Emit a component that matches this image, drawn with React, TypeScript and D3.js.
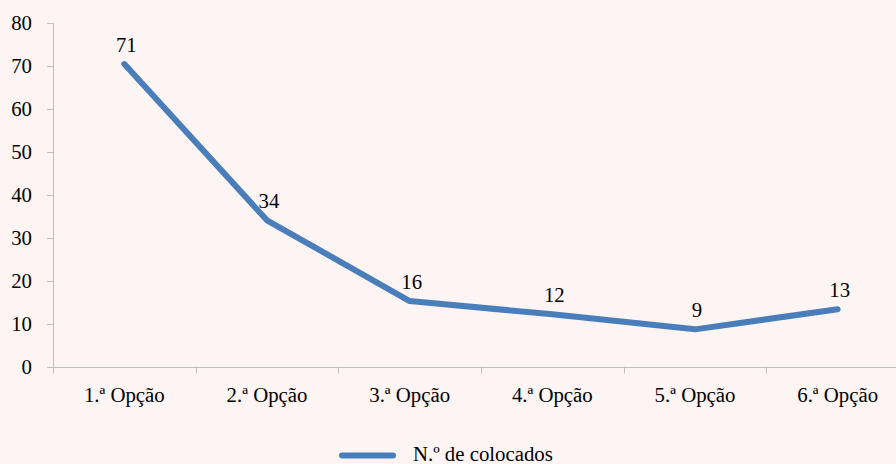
import { useEffect, useRef } from "react";
import * as d3 from "d3";

const categories = ["1.ª Opção", "2.ª Opção", "3.ª Opção", "4.ª Opção", "5.ª Opção", "6.ª Opção"];
const values = [70.5, 34.1, 15.3, 12.2, 8.7, 13.4];
const valueLabels = ["71", "34", "16", "12", "9", "13"];
const yTicks = [0, 10, 20, 30, 40, 50, 60, 70, 80];
const seriesName = "N.º de colocados";

export default function App() {
  const ref = useRef<SVGSVGElement>(null);

  useEffect(() => {
    if (!ref.current) return;
    const width = 896;
    const height = 464;
    const svg = d3.select(ref.current);
    svg.selectAll("*").remove();

    const font = "'Liberation Serif', 'DejaVu Serif', serif";
    const fontSize = 20.8;
    const lineColor = "#4a7ebb";
    const axisColor = "#bfbfbf";

    svg.append("rect").attr("width", width).attr("height", height).attr("fill", "#fdf4f4");

    const x = d3.scaleBand<string>().domain(categories).range([53, 909]);
    const y = d3.scaleLinear().domain([0, 80]).range([366.7, 23.3]);

    const g = svg.append("g");

    const label = (sel: d3.Selection<SVGTextElement, any, any, any>) =>
      sel.attr("font-family", font).attr("font-size", fontSize).attr("fill", "#000");

    // y axis
    g.append("line")
      .attr("x1", 53.5).attr("x2", 53.5)
      .attr("y1", y(80)).attr("y2", y(0))
      .attr("stroke", axisColor);
    g.selectAll("line.ytick")
      .data(yTicks)
      .enter()
      .append("line")
      .attr("class", "ytick")
      .attr("x1", 47).attr("x2", 53.5)
      .attr("y1", (d) => Math.round(y(d)) + 0.5)
      .attr("y2", (d) => Math.round(y(d)) + 0.5)
      .attr("stroke", axisColor);
    g.selectAll("text.ylab")
      .data(yTicks)
      .enter()
      .append("text")
      .attr("class", "ylab")
      .attr("x", 32)
      .attr("y", (d) => y(d) + 7)
      .attr("text-anchor", "end")
      .call(label)
      .text((d) => d);

    // x axis
    g.append("line")
      .attr("x1", 53).attr("x2", width)
      .attr("y1", Math.round(y(0)) + 0.5).attr("y2", Math.round(y(0)) + 0.5)
      .attr("stroke", axisColor);
    const xTickPos = categories.map((c) => x(c) as number);
    g.selectAll("line.xtick")
      .data(xTickPos)
      .enter()
      .append("line")
      .attr("class", "xtick")
      .attr("x1", (d) => Math.round(d) + 0.5)
      .attr("x2", (d) => Math.round(d) + 0.5)
      .attr("y1", y(0))
      .attr("y2", y(0) + 7)
      .attr("stroke", axisColor);
    g.selectAll("text.xlab")
      .data(categories)
      .enter()
      .append("text")
      .attr("class", "xlab")
      .attr("x", (d) => (x(d) as number) + x.bandwidth() / 2)
      .attr("y", 401.5)
      .attr("text-anchor", "middle")
      .call(label)
      .text((d) => d);

    // series
    const pts = categories.map((c, i) => [(x(c) as number) + x.bandwidth() / 2, y(values[i])] as [number, number]);
    g.append("path")
      .attr("d", d3.line()(pts) as string)
      .attr("fill", "none")
      .attr("stroke", lineColor)
      .attr("stroke-width", 6)
      .attr("stroke-linejoin", "round")
      .attr("stroke-linecap", "round");

    g.selectAll("text.vlab")
      .data(pts)
      .enter()
      .append("text")
      .attr("class", "vlab")
      .attr("x", (d) => d[0] + 2)
      .attr("y", (d) => d[1] - 12)
      .attr("text-anchor", "middle")
      .call(label)
      .text((_, i) => valueLabels[i]);

    // legend
    g.append("line")
      .attr("x1", 342).attr("x2", 393)
      .attr("y1", 455.5).attr("y2", 455.5)
      .attr("stroke", lineColor)
      .attr("stroke-width", 6)
      .attr("stroke-linecap", "round");
    g.append("text")
      .attr("x", 413)
      .attr("y", 461)
      .call(label)
      .text(seriesName);
  }, []);

  return (
    <svg
      ref={ref}
      width={896}
      height={464}
      style={{ position: "absolute", left: 0, top: 0, display: "block" }}
    />
  );
}
